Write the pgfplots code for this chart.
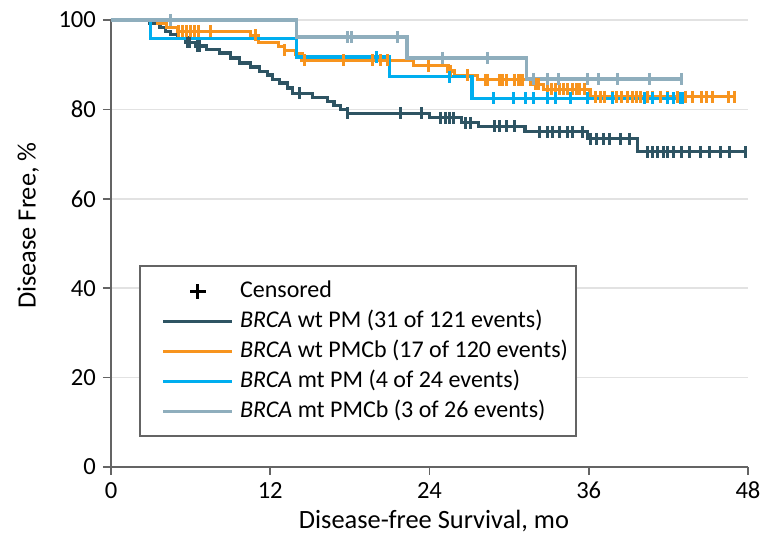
\documentclass[border=0pt]{standalone}
\usepackage{pgfplots}
\pgfplotsset{compat=1.18}
\usepackage{fontspec}
\setmainfont{Carlito}
\definecolor{cdark}{RGB}{46,84,99}
\definecolor{corange}{RGB}{247,148,30}
\definecolor{ccyan}{RGB}{0,174,239}
\definecolor{cgray}{RGB}{143,174,189}
\definecolor{axgray}{RGB}{100,100,100}
\definecolor{gridgray}{RGB}{226,226,226}
\begin{document}
\begin{tikzpicture}
\begin{axis}[
  at={(0,0)}, anchor=south west,
  scale only axis, width=318.5pt, height=223.5pt,
  xmin=0, xmax=48, ymin=0, ymax=100,
  xtick={0,12,24,36,48}, ytick={0,20,40,60,80,100},
  axis x line*=bottom, axis y line*=left,
  axis line style={-, draw=axgray, line width=0.8pt},
  tick align=outside, major tick length=4pt,
  tick style={axgray, line width=0.8pt},
  ymajorgrids, grid style={gridgray, line width=0.8pt},
  clip=false,
  font=\fontsize{12}{14}\selectfont,
  tick label style={font=\fontsize{12.3}{14}\selectfont},
  /pgf/number format/assume math mode=true,
  xlabel={Disease-free Survival, mo},
  ylabel={Disease Free, \%},
  label style={font=\fontsize{13.2}{15}\selectfont},
  xlabel style={at={(axis description cs:0.507,-0.121)}, anchor=center},
  ylabel style={at={(axis description cs:-0.130,0.54)}, anchor=center},
  legend cell align=left,
  legend style={at={(rel axis cs:0.044,0.067)}, anchor=south west,
    draw=axgray, line width=0.8pt, font=\fontsize{12}{14}\selectfont,
    inner xsep=2.5pt, inner ysep=5pt,
    nodes={inner sep=1.5pt, text height=9pt, text depth=3pt}},
  legend image code/.code={\path (-8.5pt,0pt) (36pt,0pt); \draw[#1, line width=1.3pt] (0pt,0pt) -- (34.5pt,0pt);},
]
\addlegendimage{legend image code/.code={\path (-8.5pt,0pt) (36pt,0pt); \draw[black, line width=1.5pt] (17.25pt,-3.8pt) -- (17.25pt,3.8pt) (13.45pt,0pt) -- (21.05pt,0pt);}}
\addlegendentry{Censored}

% BRCA wt PM
\addplot[const plot, cdark, line width=1.6pt] coordinates {
(0,100) (2.9,99.2) (3.7,98.3) (4.1,97.5) (4.5,96.7) (5.0,95.9) (5.6,95.0)
(6.4,94.2) (7.2,93.4) (8.2,92.6) (9.0,91.5) (9.7,90.4) (10.5,89.5) (11.2,88.4)
(11.8,87.7) (12.2,86.6) (12.7,85.9) (13.3,84.8) (13.7,83.6) (15.2,82.7)
(16.3,81.8) (16.8,80.9) (17.3,80.0) (17.8,79.1) (24.0,78.1) (26.4,77.0)
(27.7,76.2) (31.2,75.0) (35.9,73.4) (39.7,70.5) (47.8,70.5)};
\addlegendentry{\textit{BRCA} wt PM (31 of 121 events)}
\addplot[only marks, mark=|, mark size=3pt, cdark, mark options={line width=1.5pt}, forget plot] coordinates {
(5.75,95.0) (5.9,95.0) (6.5,94.2) (6.7,94.2) (14.2,83.6) (17.85,79.1) (21.8,79.1) (23.4,79.1)
(24.8,78.1) (25.2,78.1) (25.5,78.1) (25.8,78.1) (26.7,77.0) (27.1,77.0)
(28.9,76.2) (29.3,76.2) (29.8,76.2) (30.4,76.2)
(32.3,75.0) (32.9,75.0) (33.3,75.0) (33.8,75.0) (34.4,75.0) (34.8,75.0) (35.5,75.0)
(36.1,73.4) (36.6,73.4) (37.1,73.4) (37.6,73.4) (38.4,73.4) (39.1,73.4)
(40.4,70.5) (40.8,70.5) (41.2,70.5) (41.6,70.5) (41.9,70.5) (42.4,70.5) (43.0,70.5)
(43.6,70.5) (44.4,70.5) (45.1,70.5) (45.9,70.5) (46.6,70.5) (47.8,70.5)};

% BRCA wt PMCb
\addplot[const plot, corange, line width=1.6pt] coordinates {
(0,100) (3.5,99.2) (4.2,98.3) (5.0,97.5) (10.5,96.6) (11.1,94.9) (12.6,94.0)
(13.1,93.2) (13.9,92.4) (14.4,91.0) (22.8,89.8) (25.4,88.6) (25.9,87.6)
(27.6,86.6) (31.6,85.6) (32.6,84.5) (36.1,82.8) (47.1,82.8)};
\addlegendentry{\textit{BRCA} wt PMCb (17 of 120 events)}
\addplot[only marks, mark=|, mark size=3pt, corange, mark options={line width=1.5pt}, forget plot] coordinates {
(5.1,97.5) (5.4,97.5) (5.7,97.5) (6.0,97.5) (6.3,97.5) (6.6,97.5) (7.5,97.5)
(10.9,96.6) (13.1,93.2) (14.6,91.0) (17.5,91.0) (19.7,91.0) (20.3,91.0) (20.8,91.0)
(23.9,89.8) (25.6,88.6) (26.9,87.6)
(28.2,86.6) (28.3,86.6) (28.4,86.6) (29.3,86.6) (29.5,86.6) (29.8,86.6) (30.4,86.6) (30.7,86.6) (30.8,86.6) (31.0,86.6)
(32.0,85.6) (32.2,85.6)
(32.9,84.5) (33.2,84.5) (33.5,84.5) (33.8,84.5) (34.1,84.5) (34.4,84.5) (34.8,84.5) (35.1,84.5) (35.3,84.5) (35.7,84.5)
(36.5,82.8) (36.9,82.8) (37.2,82.8) (37.8,82.8) (38.1,82.8) (38.5,82.8) (38.9,82.8) (39.3,82.8)
(39.6,82.8) (39.9,82.8) (40.4,82.8) (40.8,82.8) (41.4,82.8) (41.9,82.8) (42.7,82.8) (43.3,82.8)
(43.8,82.8) (44.5,82.8) (44.9,82.8) (45.3,82.8) (46.5,82.8) (47.0,82.8)};

% BRCA mt PM
\addplot[const plot, ccyan, line width=1.6pt] coordinates {
(0,100) (3.0,95.8) (14.0,91.7) (21.0,87.3) (27.2,82.5) (43.1,82.5)};
\addlegendentry{\textit{BRCA} mt PM (4 of 24 events)}
\addplot[only marks, mark=|, mark size=3pt, ccyan, mark options={line width=1.5pt}, forget plot] coordinates {
(20.0,91.7) (25.5,87.3) (28.8,82.5) (30.3,82.5) (31.2,82.5) (31.8,82.5) (32.9,82.5)
(33.5,82.5) (34.6,82.5) (35.9,82.5) (37.8,82.5) (40.2,82.5) (40.8,82.5) (41.9,82.5)
(42.4,82.5) (42.9,82.5) (43.1,82.5)};

% BRCA mt PMCb
\addplot[const plot, cgray, line width=1.6pt] coordinates {
(0,100) (14.0,96.2) (22.3,91.5) (31.3,86.8) (43.0,86.8)};
\addlegendentry{\textit{BRCA} mt PMCb (3 of 26 events)}
\addplot[only marks, mark=|, mark size=3pt, cgray, mark options={line width=1.5pt}, forget plot] coordinates {
(4.5,100) (17.8,96.2) (18.1,96.2) (21.6,96.2) (25.0,91.5) (28.4,91.5)
(31.8,86.8) (32.9,86.8) (33.7,86.8) (35.9,86.8) (36.7,86.8) (38.2,86.8) (40.6,86.8) (43.0,86.8)};
\end{axis}
\pgfresetboundingbox
\path[use as bounding box] (-55.5pt,-36.5pt) rectangle (333.5pt,233.5pt);
\end{tikzpicture}
\end{document}
